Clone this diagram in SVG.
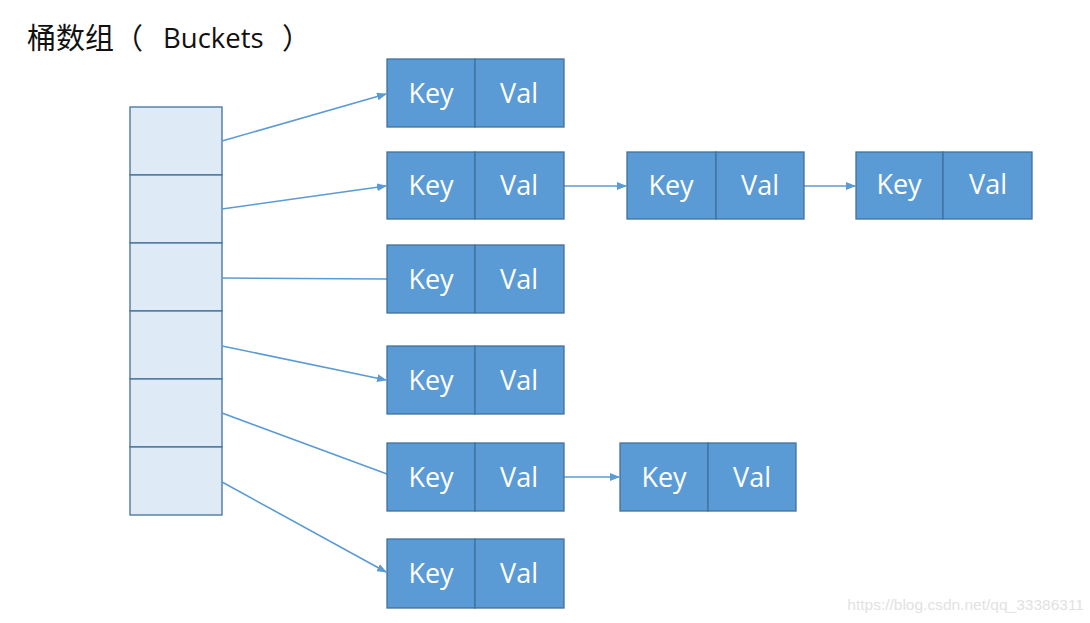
<svg xmlns="http://www.w3.org/2000/svg" width="1090" height="623" viewBox="0 0 1090 623">
<defs>
<marker id="ah" markerWidth="10" markerHeight="8" refX="9" refY="4" orient="auto" markerUnits="userSpaceOnUse">
<path d="M0,0 L10,4 L0,8 Z" fill="#5B9BD5"/>
</marker>
<style>
.cell{fill:#5B9BD5;stroke:#41719C;stroke-width:1.3}
.bk{fill:#DEEBF7;stroke:#41719C;stroke-width:1.3}
.t{font-family:"Open Sans","Noto Sans",sans-serif;font-size:27px;fill:#fff;text-anchor:middle}
.ln{stroke:#5B9BD5;stroke-width:1.6;fill:none}
.arr{marker-end:url(#ah)}
</style>
</defs>
<rect width="1090" height="623" fill="#fff"/>
<text x="27" y="49" font-family="'Noto Sans CJK SC',sans-serif" font-size="29" fill="#111">桶数组（</text>
<text x="163" y="48" font-family="'Open Sans','Noto Sans',sans-serif" font-size="27.5" fill="#111">Buckets</text>
<text x="282" y="49" font-family="'Noto Sans CJK SC',sans-serif" font-size="29" fill="#111">）</text>

<g id="buckets">
<rect class="bk" x="130" y="107" width="92" height="68"/>
<rect class="bk" x="130" y="175" width="92" height="68"/>
<rect class="bk" x="130" y="243" width="92" height="68"/>
<rect class="bk" x="130" y="311" width="92" height="68"/>
<rect class="bk" x="130" y="379" width="92" height="68"/>
<rect class="bk" x="130" y="447" width="92" height="68"/>
</g>

<g id="connectors">
<line class="ln arr" x1="222" y1="141" x2="386" y2="94"/>
<line class="ln arr" x1="222" y1="209" x2="386" y2="186"/>
<line class="ln" x1="222" y1="278" x2="387" y2="279"/>
<line class="ln arr" x1="222" y1="346" x2="386" y2="380"/>
<line class="ln" x1="222" y1="413" x2="387" y2="474"/>
<line class="ln arr" x1="222" y1="482" x2="386" y2="572"/>
<line class="ln arr" x1="564" y1="186" x2="626" y2="186"/>
<line class="ln arr" x1="804" y1="186" x2="855" y2="186"/>
<line class="ln arr" x1="564" y1="477" x2="619" y2="477"/>
</g>

<g id="n1"><rect class="cell" x="387" y="59" width="88" height="68"/><rect class="cell" x="475" y="59" width="89" height="68"/><text class="t" x="431" y="103">Key</text><text class="t" x="519" y="103">Val</text></g>
<g id="n2"><rect class="cell" x="387" y="152" width="88" height="67"/><rect class="cell" x="475" y="152" width="89" height="67"/><text class="t" x="431" y="195">Key</text><text class="t" x="519" y="195">Val</text></g>
<g id="n2b"><rect class="cell" x="627" y="152" width="89" height="67"/><rect class="cell" x="716" y="152" width="88" height="67"/><text class="t" x="671" y="195">Key</text><text class="t" x="760" y="195">Val</text></g>
<g id="n2c"><rect class="cell" x="856" y="152" width="87" height="67"/><rect class="cell" x="943" y="152" width="89" height="67"/><text class="t" x="899" y="194">Key</text><text class="t" x="988" y="194">Val</text></g>
<g id="n3"><rect class="cell" x="387" y="245" width="88" height="68"/><rect class="cell" x="475" y="245" width="89" height="68"/><text class="t" x="431" y="289">Key</text><text class="t" x="519" y="289">Val</text></g>
<g id="n4"><rect class="cell" x="387" y="346" width="88" height="68"/><rect class="cell" x="475" y="346" width="89" height="68"/><text class="t" x="431" y="390">Key</text><text class="t" x="519" y="390">Val</text></g>
<g id="n5"><rect class="cell" x="387" y="443" width="88" height="68"/><rect class="cell" x="475" y="443" width="89" height="68"/><text class="t" x="431" y="487">Key</text><text class="t" x="519" y="487">Val</text></g>
<g id="n5b"><rect class="cell" x="620" y="443" width="88" height="68"/><rect class="cell" x="708" y="443" width="88" height="68"/><text class="t" x="664" y="487">Key</text><text class="t" x="752" y="487">Val</text></g>
<g id="n6"><rect class="cell" x="387" y="539" width="88" height="69"/><rect class="cell" x="475" y="539" width="89" height="69"/><text class="t" x="431" y="583">Key</text><text class="t" x="519" y="583">Val</text></g>

<text x="1084" y="610" text-anchor="end" font-family="'Liberation Sans',sans-serif" font-size="15.5" fill="#e2e2e2">https://blog.csdn.net/qq_33386311</text>
</svg>
